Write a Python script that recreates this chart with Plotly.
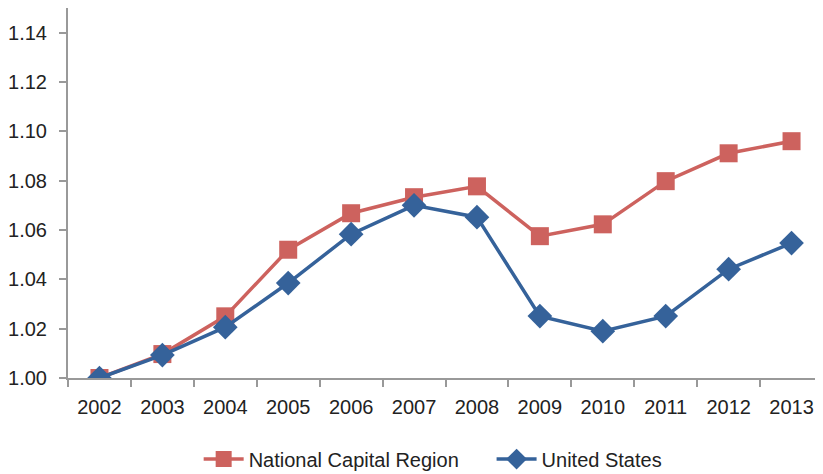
import plotly.graph_objects as go

years = ["2002", "2003", "2004", "2005", "2006", "2007",
         "2008", "2009", "2010", "2011", "2012", "2013"]
ncr = [1.000, 1.0097, 1.025, 1.052, 1.0668, 1.0733,
       1.0777, 1.0575, 1.0623, 1.0798, 1.0911, 1.0960]
us = [1.000, 1.0093, 1.0206, 1.0385, 1.0583, 1.0700,
      1.0652, 1.0251, 1.0190, 1.0251, 1.0441, 1.0547]

FONT = "Liberation Sans, Arial, sans-serif"
RED = "#CD625E"
BLUE = "#35629A"

fig = go.Figure()
fig.add_trace(go.Scatter(
    x=years, y=ncr, name="National Capital Region" + "\u00a0" * 5,
    mode="lines+markers",
    line=dict(color=RED, width=3.5),
    marker=dict(symbol="square", size=18, color=RED),
))
fig.add_trace(go.Scatter(
    x=years, y=us, name="United States",
    mode="lines+markers",
    line=dict(color=BLUE, width=3.5),
    marker=dict(symbol="diamond", size=19, color=BLUE),
))

# page body adds an 8px offset, so the figure is sized to fill the rest
fig.update_layout(
    width=815, height=466,
    margin=dict(l=60, r=0, t=0, b=96),
    plot_bgcolor="white", paper_bgcolor="white",
    font=dict(family=FONT, size=20, color="#222222"),
    showlegend=True,
    legend=dict(orientation="h", x=0.483, xanchor="center",
                yref="container", y=0.032, yanchor="middle",
                font=dict(size=20), itemwidth=40, tracegroupgap=0),
)
fig.update_xaxes(
    type="category", range=[-0.5, 11.5], automargin=False,
    showline=True, linecolor="#999999", linewidth=2,
    ticks="outside", tickson="boundaries", ticklen=7, tickcolor="#999999", tickwidth=2,
    ticklabelstandoff=10,
    showgrid=False, zeroline=False,
)
fig.update_yaxes(
    range=[1.0, 1.15], tickvals=[1.00, 1.02, 1.04, 1.06, 1.08, 1.10, 1.12, 1.14],
    tickformat=".2f", automargin=False,
    showline=True, linecolor="#999999", linewidth=2,
    ticks="outside", ticklen=7, tickcolor="#999999", tickwidth=2,
    ticklabelstandoff=8,
    showgrid=False, zeroline=False,
)

fig.write_html("out.html")
